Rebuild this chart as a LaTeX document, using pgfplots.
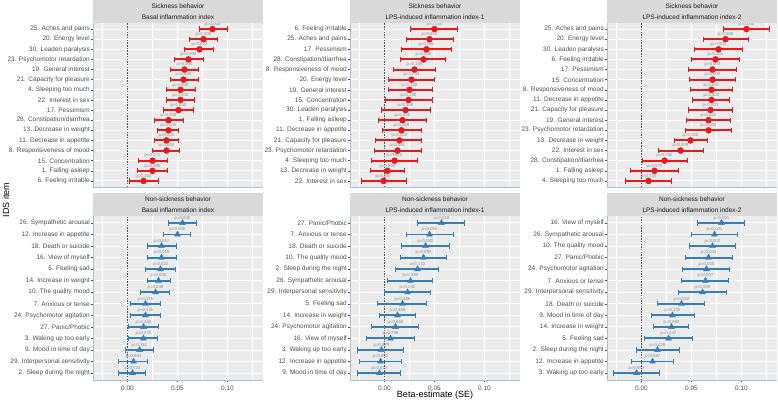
\documentclass[border=0pt]{standalone}
\usepackage{pgfplots}
\pgfplotsset{compat=1.18}
\usepackage{pgfplotstable}
\usepackage{fontspec}
\setmainfont{Liberation Sans}

\definecolor{sickred}{HTML}{E41A1C}
\definecolor{nonblue}{HTML}{377EB8}
\definecolor{panelbg}{HTML}{EBEBEB}
\definecolor{stripbg}{HTML}{D9D9D9}
\definecolor{axblue}{HTML}{A9C0DA}
\definecolor{tickgrey}{HTML}{4D4D4D}
\definecolor{plabel}{HTML}{8C8C8C}

% i counts from the bottom row; p is the label printed above each estimate
\pgfplotstableread{
i  est    lo     hi    p
16 0.085  0.072  0.100 p=0.000
15 0.076  0.062  0.090 p=0.000
14 0.072  0.057  0.086 p=0.000
13 0.061  0.047  0.076 p=0.000
12 0.057  0.043  0.071 p=0.000
11 0.056  0.043  0.071 p=0.000
10 0.053  0.039  0.068 p=0.000
9  0.053  0.039  0.067 p=0.000
8  0.051  0.036  0.066 p=0.000
7  0.041  0.027  0.056 p=0.003
6  0.041  0.030  0.051 p=0.000
5  0.039  0.027  0.051 p=0.001
4  0.039  0.025  0.052 p=0.004
3  0.025  0.011  0.040 p=0.071
2  0.025  0.010  0.040 p=0.096
1  0.016  0.002  0.031 p=0.252
}\tA
\pgfplotstableread{
i  est    lo     hi    p
16 0.050  0.026  0.073 p=0.020
15 0.045  0.022  0.069 p=0.052
14 0.042  0.017  0.067 p=0.081
13 0.039  0.016  0.061 p=0.085
12 0.030  0.009  0.051 p=0.159
11 0.027  0.004  0.050 p=0.233
10 0.025  0.004  0.048 p=0.242
9  0.024  0.001  0.048 p=0.290
8  0.021 -0.003  0.046 p=0.368
7  0.018 -0.006  0.042 p=0.445
6  0.017 -0.002  0.037 p=0.369
5  0.015 -0.009  0.037 p=0.523
4  0.013 -0.010  0.037 p=0.561
3  0.010 -0.013  0.033 p=0.653
2  0.003 -0.014  0.020 p=0.854
1 -0.001 -0.023  0.022 p=0.987
}\tB
\pgfplotstableread{
i  est    lo     hi    p
16 0.105  0.082  0.128 p=0.000
15 0.084  0.062  0.107 p=0.000
14 0.077  0.053  0.101 p=0.001
13 0.074  0.050  0.098 p=0.001
12 0.071  0.047  0.095 p=0.003
11 0.071  0.048  0.094 p=0.002
10 0.070  0.049  0.091 p=0.001
9  0.070  0.051  0.088 p=0.000
8  0.069  0.047  0.091 p=0.002
7  0.067  0.045  0.089 p=0.002
6  0.067  0.044  0.090 p=0.003
5  0.049  0.033  0.066 p=0.002
4  0.039  0.017  0.062 p=0.079
3  0.023  0.001  0.046 p=0.282
2  0.013 -0.011  0.037 p=0.570
1  0.007 -0.016  0.030 p=0.720
}\tC
\pgfplotstableread{
i  est    lo     hi    p
14 0.055  0.041  0.069 p=0.000
13 0.050  0.036  0.063 p=0.000
12 0.034  0.020  0.049 p=0.017
11 0.034  0.020  0.049 p=0.010
10 0.033  0.018  0.048 p=0.022
9  0.031  0.020  0.043 p=0.006
8  0.028  0.013  0.042 p=0.049
7  0.018  0.003  0.033 p=0.215
6  0.018  0.003  0.033 p=0.226
5  0.016  0.001  0.031 p=0.266
4  0.016  0.001  0.030 p=0.270
3  0.012 -0.002  0.026 p=0.361
2  0.006 -0.009  0.020 p=0.683
1  0.005 -0.009  0.018 p=0.723
}\tD
\pgfplotstableread{
i  est    lo     hi    p
14 0.057  0.033  0.080 p=0.018
13 0.045  0.022  0.069 p=0.055
12 0.041  0.017  0.065 p=0.082
11 0.039  0.016  0.062 p=0.093
10 0.033  0.011  0.054 p=0.132
9  0.026  0.003  0.048 p=0.280
8  0.023  0.000  0.046 p=0.332
7  0.018 -0.007  0.042 p=0.486
6  0.013 -0.005  0.031 p=0.469
5  0.011 -0.013  0.034 p=0.650
4  0.006 -0.018  0.030 p=0.799
3 -0.003 -0.027  0.019 p=0.879
2 -0.004 -0.025  0.017 p=0.852
1 -0.005 -0.027  0.016 p=0.820
}\tE
\pgfplotstableread{
i  est    lo     hi    p
14 0.080  0.056  0.103 p=0.001
13 0.073  0.050  0.096 p=0.001
12 0.071  0.048  0.094 p=0.002
11 0.067  0.044  0.091 p=0.004
10 0.065  0.041  0.088 p=0.005
9  0.064  0.040  0.087 p=0.007
8  0.061  0.037  0.085 p=0.009
7  0.040  0.016  0.063 p=0.052
6  0.031  0.010  0.053 p=0.132
5  0.030  0.012  0.047 p=0.080
4  0.027  0.003  0.051 p=0.247
3  0.016 -0.005  0.038 p=0.428
2  0.011 -0.010  0.032 p=0.587
1 -0.005 -0.028  0.018 p=0.853
}\tF

\pgfplotsset{
  forest/.style={
    scale only axis, width=170pt, anchor=south west,
    xmin=-0.0345, xmax=0.1355,
    axis lines*=left,
    axis line style={axblue, line width=0.6pt},
    axis background/.style={fill=panelbg},
    xtick={0,0.05,0.1},
    minor xtick={-0.025,0.025,0.075,0.125},
    grid=both,
    major grid style={white, line width=0.9pt},
    minor grid style={white, line width=0.45pt},
    tick align=outside, major tick length=2pt, minor tick length=0pt,
    tick style={tickgrey, line width=0.5pt},
    tick label style={font=\fontsize{6.5}{7}\selectfont, text=tickgrey},
    yticklabel style={inner sep=1pt},
    clip=false,
  },
  toprow/.style={forest, height=164pt, ymin=0.4, ymax=16.6,
    ytick={16,15,...,1}, xticklabels={,,}, xtick style={draw=none}},
  botrow/.style={forest, height=164pt, ymin=0.4, ymax=14.6,
    ytick={14,13,...,1}, xticklabels={0.00,0.05,0.10}},
  % horizontal interval from lo to hi (quiver segment, no arrow head)
  ci/.style={forget plot, draw=#1, solid, line width=1.9pt,
    quiver={u=\thisrow{hi}-\thisrow{lo}, v=0},
    every arrow/.append style={-, draw=#1, line width=1.9pt}},
  cap/.style={forget plot, only marks, mark=|, mark size=2.6pt,
    mark options={draw=#1, line width=1.2pt}},
  plabels/.style={nodes near coords, point meta=explicit symbolic,
    every node near coord/.append style={font=\fontsize{4.3}{5}\selectfont,
      text=plabel, anchor=south, inner sep=0pt, yshift=2.6pt}},
  sick/.style={plabels, only marks, mark=*, mark size=3pt, color=sickred,
    mark options={fill=sickred, draw=sickred}},
  nonsick/.style={plabels, only marks, mark=triangle*, mark size=3.4pt, color=nonblue,
    mark options={fill=nonblue, draw=nonblue}},
  zeroline/.style={forget plot, tickgrey, line width=0.5pt, dash pattern=on 1.5pt off 1.2pt},
}

\newcommand{\strip}[3]{% left x, bottom y, two-line label (picture units are pt)
  \fill[stripbg] (#1,#2) rectangle ({#1+170},{#2+23});
  \node[align=center, font=\fontsize{6.5}{11.2}\selectfont, text=black!90]
    at ({#1+85},{#2+11.5}) {#3};}

% one panel's intervals and caps
\newcommand{\forestplots}[2]{% table, colour
  \addplot[ci=#2] table[x=lo, y=i] {#1};
  \addplot[cap=#2] table[x=lo, y=i] {#1};
  \addplot[cap=#2] table[x=hi, y=i] {#1};}

\begin{document}
\begin{tikzpicture}[x=1pt, y=1pt]
\path[use as bounding box] (0,0) rectangle (778,400);

% ---- top row: sickness behavior ----
\begin{axis}[toprow, at={(93pt,213pt)},
  yticklabels={25. Aches and pains,20. Energy level,30. Leaden paralysis,23. Psychomotor retardation,19. General interest,21. Capacity for pleasure,4. Sleeping too much,22. Interest in sex,17. Pessimism,28. Constipation/diarrhea,13. Decrease in weight,11. Decrease in appetite,8. Responsiveness of mood,15. Concentration,1. Falling asleep,6. Feeling irritable}]
\addplot[zeroline] coordinates {(0,0.4) (0,16.6)};
\forestplots{\tA}{sickred}
\addplot[sick] table[x=est, y=i, meta=p] {\tA};
\end{axis}
\strip{93}{377}{Sickness behavior\\Basal inflammation index}

\begin{axis}[toprow, at={(350pt,213pt)},
  yticklabels={6. Feeling irritable,25. Aches and pains,17. Pessimism,28. Constipation/diarrhea,8. Responsiveness of mood,20. Energy level,19. General interest,15. Concentration,30. Leaden paralysis,1. Falling asleep,11. Decrease in appetite,21. Capacity for pleasure,23. Psychomotor retardation,4. Sleeping too much,13. Decrease in weight,22. Interest in sex}]
\addplot[zeroline] coordinates {(0,0.4) (0,16.6)};
\forestplots{\tB}{sickred}
\addplot[sick] table[x=est, y=i, meta=p] {\tB};
\end{axis}
\strip{350}{377}{Sickness behavior\\LPS-induced inflammation index-1}

\begin{axis}[toprow, at={(607pt,213pt)},
  yticklabels={25. Aches and pains,20. Energy level,30. Leaden paralysis,6. Feeling irritable,17. Pessimism,15. Concentration,8. Responsiveness of mood,11. Decrease in appetite,21. Capacity for pleasure,19. General interest,23. Psychomotor retardation,13. Decrease in weight,22. Interest in sex,28. Constipation/diarrhea,1. Falling asleep,4. Sleeping too much}]
\addplot[zeroline] coordinates {(0,0.4) (0,16.6)};
\forestplots{\tC}{sickred}
\addplot[sick] table[x=est, y=i, meta=p] {\tC};
\end{axis}
\strip{607}{377}{Sickness behavior\\LPS-induced inflammation index-2}

% ---- bottom row: non-sickness behavior ----
\begin{axis}[botrow, at={(93pt,20pt)},
  yticklabels={26. Sympathetic arousal,12. Increase in appetite,18. Death or suicide,16. View of myself,5. Feeling sad,14. Increase in weight,10. The quality mood,7. Anxious or tense,24. Psychomotor agitation,27. Panic/Phobic,3. Waking up too early,9. Mood in time of day,29. Interpersonal sensitivity,2. Sleep during the night}]
\addplot[zeroline] coordinates {(0,0.4) (0,14.6)};
\forestplots{\tD}{nonblue}
\addplot[nonsick] table[x=est, y=i, meta=p] {\tD};
\end{axis}
\strip{93}{184}{Non-sickness behavior\\Basal inflammation index}

\begin{axis}[botrow, at={(350pt,20pt)},
  yticklabels={27. Panic/Phobic,7. Anxious or tense,18. Death or suicide,10. The quality mood,2. Sleep during the night,26. Sympathetic arousal,29. Interpersonal sensitivity,5. Feeling sad,14. Increase in weight,24. Psychomotor agitation,16. View of myself,3. Waking up too early,12. Increase in appetite,9. Mood in time of day}]
\addplot[zeroline] coordinates {(0,0.4) (0,14.6)};
\forestplots{\tE}{nonblue}
\addplot[nonsick] table[x=est, y=i, meta=p] {\tE};
\end{axis}
\strip{350}{184}{Non-sickness behavior\\LPS-induced inflammation index-1}

\begin{axis}[botrow, at={(607pt,20pt)},
  yticklabels={16. View of myself,26. Sympathetic arousal,10. The quality mood,27. Panic/Phobic,24. Psychomotor agitation,7. Anxious or tense,29. Interpersonal sensitivity,18. Death or suicide,9. Mood in time of day,14. Increase in weight,5. Feeling sad,2. Sleep during the night,12. Increase in appetite,3. Waking up too early}]
\addplot[zeroline] coordinates {(0,0.4) (0,14.6)};
\forestplots{\tF}{nonblue}
\addplot[nonsick] table[x=est, y=i, meta=p] {\tF};
\end{axis}
\strip{607}{184}{Non-sickness behavior\\LPS-induced inflammation index-2}

\node[rotate=90, font=\fontsize{9}{10}\selectfont] at (6,200) {IDS item};
\node[font=\fontsize{9}{10}\selectfont] at (435,5) {Beta-estimate (SE)};
\end{tikzpicture}
\end{document}
